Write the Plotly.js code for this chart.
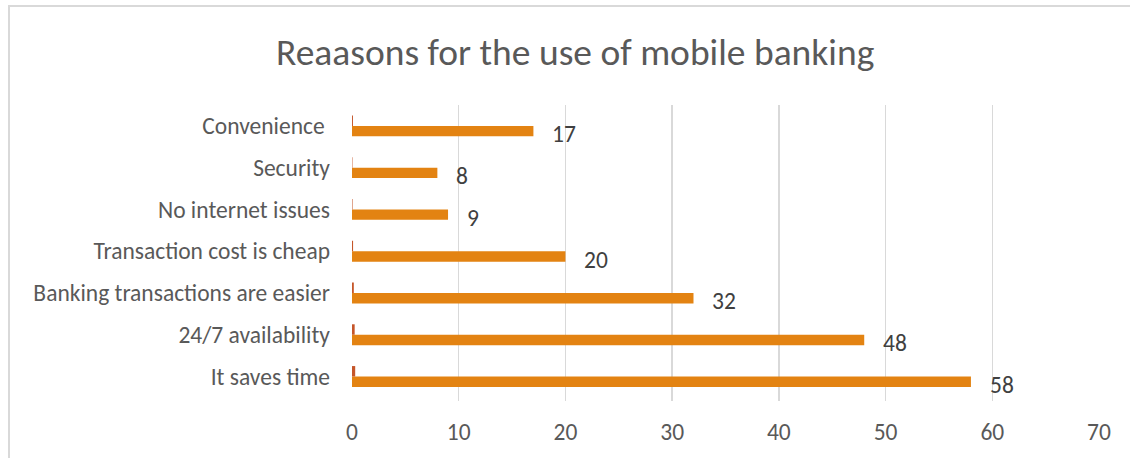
<!DOCTYPE html>
<html>
<head>
<meta charset="utf-8">
<script src="https://cdn.plot.ly/plotly-3.0.1.min.js"></script>
<style>
  html, body { margin: 0; padding: 0; background: #ffffff; overflow: hidden; }
  #wrap { position: relative; width: 1130px; height: 458px; }
  #frame {
    position: absolute; left: 8px; top: 5px; width: 1200px; height: 500px;
    border-top: 2px solid #d9d9d9; border-left: 2px solid #d9d9d9;
    box-sizing: border-box; pointer-events: none;
  }
  #chart { position: absolute; left: 0; top: 0; width: 1130px; height: 458px; }
</style>
</head>
<body>
<div id="wrap">
  <div id="chart"></div>
  <div id="frame"></div>
</div>
<script>
// Reasons given, listed from the bottom row of the chart to the top row
const reasons = [
  "It saves time",
  "24/7 availability",
  "Banking transactions are easier",
  "Transaction cost is cheap",
  "No internet issues",
  "Security",
  "Convenience\u00a0"
];

// Number of respondents per reason
const respondents = [58, 48, 32, 20, 9, 8, 17];

// Share of respondents per reason (fraction of all answers)
const share = [0.30, 0.25, 0.17, 0.10, 0.05, 0.04, 0.09];

const xTicks = [0, 10, 20, 30, 40, 50, 60, 70];

const FONT = "Carlito, Lato, 'Open Sans', sans-serif";

const traces = [
  {
    type: "bar",
    orientation: "h",
    name: "Respondents",
    y: reasons,
    x: respondents,
    marker: { color: "#E38312" },
    hoverinfo: "x+y"
  },
  {
    type: "bar",
    orientation: "h",
    name: "Share",
    y: reasons,
    x: share,
    marker: { color: "#C5562A" },
    hoverinfo: "x+y"
  }
];

// Value labels placed just past the end of each respondents bar
const valueLabels = reasons.map((r, i) => ({
  x: respondents[i],
  y: r,
  xref: "x",
  yref: "y",
  text: String(respondents[i]),
  showarrow: false,
  xanchor: "left",
  yanchor: "middle",
  xshift: 17,
  yshift: -8.5,
  font: { family: FONT, size: 23.5, color: "#404040" }
}));

const layout = {
  width: 1130,
  height: 458,
  paper_bgcolor: "rgba(0,0,0,0)",
  plot_bgcolor: "rgba(0,0,0,0)",
  margin: { l: 352, r: 31, t: 105, b: 57 },
  showlegend: false,
  barmode: "group",
  bargap: 0.5,
  bargroupgap: 0,
  title: {
    text: "Reaasons for the use of mobile banking",
    xref: "container",
    yref: "container",
    x: 0.509,
    y: 1 - 52 / 458,
    xanchor: "center",
    yanchor: "middle",
    font: { family: FONT, size: 37.5, color: "#595959" }
  },
  xaxis: {
    range: [0, 70],
    tickvals: xTicks,
    ticktext: xTicks.map(String),
    showgrid: true,
    gridcolor: "#d9d9d9",
    gridwidth: 1.5,
    zeroline: false,
    showline: false,
    ticks: "",
    ticklabelstandoff: 14,
    tickfont: { family: FONT, size: 23.5, color: "#595959" },
    fixedrange: true
  },
  yaxis: {
    type: "category",
    categoryorder: "array",
    categoryarray: reasons,
    showgrid: false,
    zeroline: false,
    showline: false,
    ticks: "",
    ticklabelstandoff: 21,
    tickfont: { family: FONT, size: 23.5, color: "#595959" },
    fixedrange: true
  },
  annotations: valueLabels
};

Plotly.newPlot("chart", traces, layout, { displayModeBar: false, staticPlot: true });
</script>
</body>
</html>
